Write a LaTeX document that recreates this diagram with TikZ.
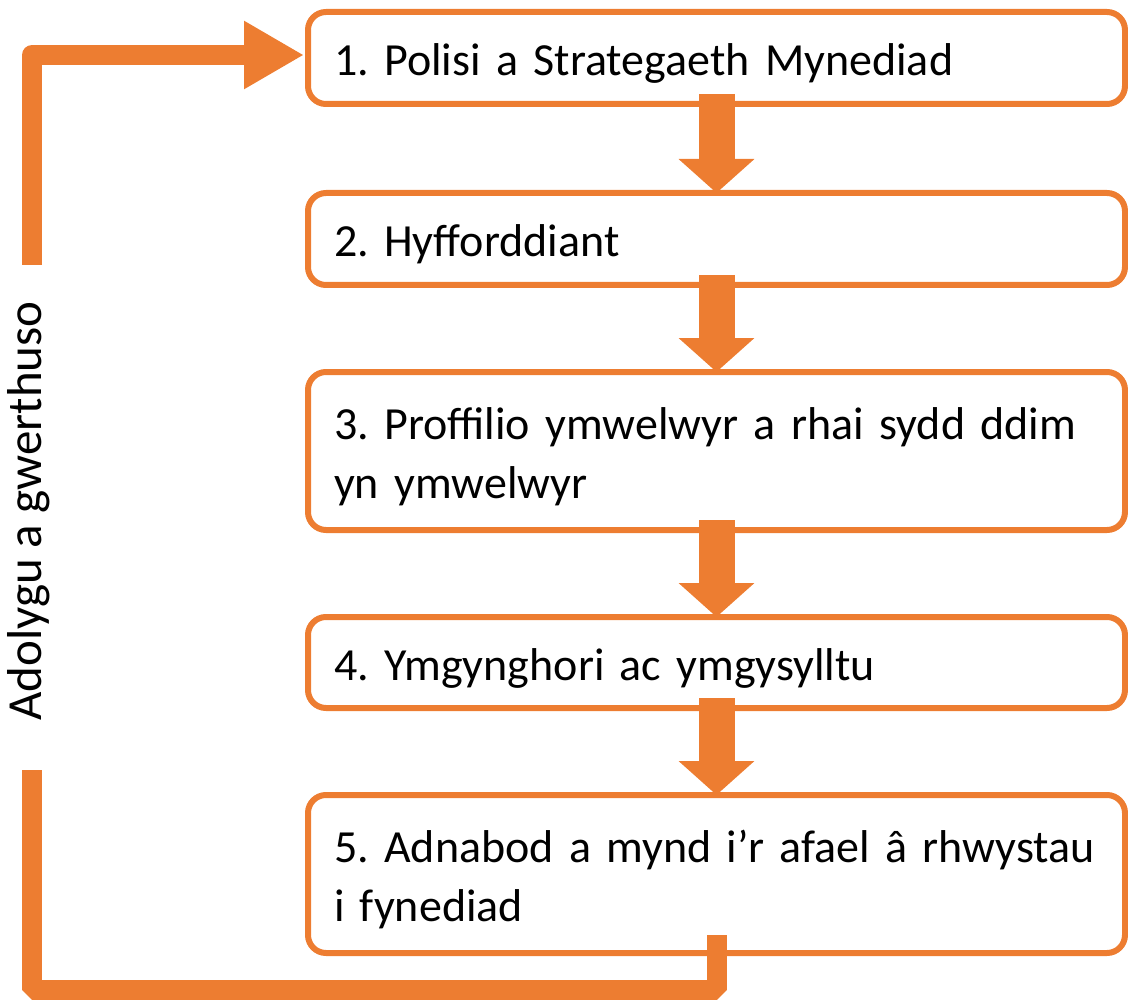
\documentclass[tikz,border=0pt]{standalone}
\usepackage{fontspec}
\setmainfont{Carlito}
\usetikzlibrary{arrows.meta}
\definecolor{accent}{HTML}{ED7D31}
\frenchspacing

\begin{document}
\begin{tikzpicture}[x=1pt, y=-1pt,
  stepbox/.style={draw=accent, line width=6pt, rounded corners=18pt, outer sep=0pt,
    anchor=north west, text width=765pt, inner xsep=26pt, align=left, text height=43pt,
    font=\fontsize{46}{59}\selectfont},
  downarrow/.style={accent, line width=36pt, -{Triangle[width=74pt, length=34pt]}},
  loopline/.style={accent, line width=20pt}]
  \useasboundingbox (0,0) rectangle (1128,1003);

  % Steps
  \node[stepbox, minimum height=92pt] (b1) at (308,12) {1. Polisi a Strategaeth Mynediad};
  \node[stepbox, minimum height=92pt] (b2) at (308,193) {2. Hyfforddiant};
  \node[stepbox, minimum height=158pt] (b3) at (308,372) {3. Proffilio ymwelwyr a rhai sydd ddim\\yn ymwelwyr};
  \node[stepbox, minimum height=91pt] (b4) at (308,617) {4. Ymgynghori ac ymgysylltu};
  \node[stepbox, minimum height=158pt] (b5) at (308,795) {5. Adnabod a mynd i’r afael â rhwystau\\i fynediad};

  % Arrows between steps
  \draw[downarrow] ([yshift=10pt]b1.south) -- (b2.north);
  \draw[downarrow] ([yshift=10pt]b2.south) -- (b3.north);
  \draw[downarrow] ([yshift=10pt]b3.south) -- (b4.north);
  \draw[downarrow] ([yshift=10pt]b4.south) -- (b5.north);

  % Review loop
  \coordinate (lowcorner) at (32,990);
  \coordinate (gapbot) at (32,770);
  \coordinate (gaptop) at (32,265);
  \draw[loopline, line join=bevel] ([yshift=18pt]b5.south) |- (lowcorner) -- (gapbot);
  \draw[loopline, line join=round, -{Triangle[width=64pt, length=60pt]}]
    (gaptop) |- ([xshift=-4pt, yshift=3pt]b1.west);
  \node[font=\fontsize{49}{59}\selectfont, rotate=90] (review) at (29,511) {Adolygu a gwerthuso};
\end{tikzpicture}
\end{document}
